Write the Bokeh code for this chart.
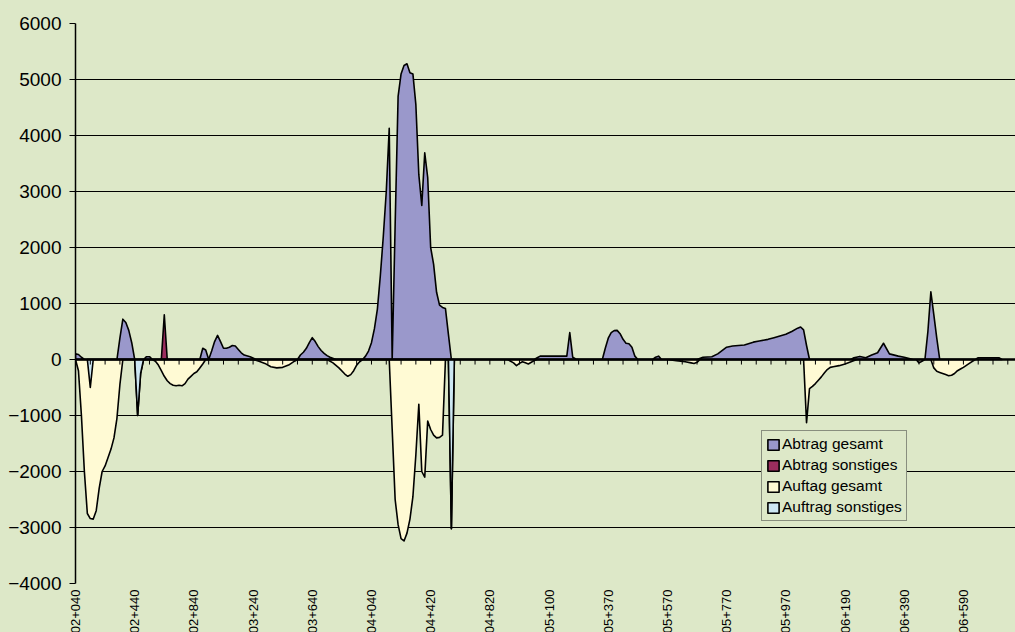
import math
from bokeh.plotting import figure
from bokeh.models import Range1d, FixedTicker, Span, Legend, LegendItem
from bokeh.embed import file_html
from bokeh.resources import INLINE

BG = "#DDE8C8"
FONT = "Liberation Sans"

# category axis: labelled every 20th station, tick marks every 5th
station_labels = ["02+040", "02+440", "02+840", "03+240", "03+640", "04+040", "04+420", "04+820",
                  "05+100", "05+370", "05+570", "05+770", "05+970", "06+190", "06+390", "06+590"]
label_index = [0, 20, 40, 60, 80, 100, 120, 140, 160, 180, 200, 220, 240, 260, 280, 300]
n_categories = 318
y_ticks = [-4000, -3000, -2000, -1000, 0, 1000, 2000, 3000, 4000, 5000, 6000]

# Abtrag gesamt (category index, value)
abtrag_gesamt_x = [0, 1, 2, 3, 14, 15, 16, 17, 18, 19, 20,
                   23, 24, 25, 26,
                   42, 43, 44, 45, 46, 47, 48, 49, 50, 51, 52, 53, 54, 55, 56, 57, 59, 61,
                   75, 76, 77, 78, 79, 80, 81, 82, 83, 84, 85, 86, 88,
                   97, 98, 99, 100, 101, 102, 103, 104, 105, 106, 107, 108, 109, 110, 111, 112,
                   113, 114, 115, 116, 117, 118, 119, 120, 121, 122, 123, 124, 125, 126, 127,
                   155, 156, 157, 166, 167, 168, 169, 170,
                   178, 179, 180, 181, 182, 183, 184, 185, 186, 187, 188, 189, 190,
                   195, 196, 197, 198,
                   210, 212, 215, 217, 218, 220, 222, 226, 229, 231, 234, 236, 238, 240, 242, 244,
                   245, 246, 247, 248,
                   262, 263, 265, 267, 269, 271, 273, 275, 278, 280, 283,
                   287, 288, 289, 290, 291, 292,
                   304, 305, 312, 313]
abtrag_gesamt_y = [100, 90, 40, 0, 0, 380, 720, 660, 520, 300, 0,
                   0, 50, 50, 0,
                   0, 200, 170, 0, 150, 320, 430, 320, 200, 200, 220, 250, 240, 180, 120, 80, 50, 0,
                   0, 80, 130, 200, 300, 390, 320, 230, 160, 110, 70, 40, 0,
                   0, 60, 150, 300, 550, 900, 1500, 2200, 3000, 4130, 0, 2400, 4700, 5100, 5250, 5280,
                   5120, 5100, 4550, 3300, 2750, 3690, 3250, 2000, 1700, 1200, 970, 930, 910, 450, 0,
                   0, 30, 60, 60, 480, 40, 10, 0,
                   0, 200, 380, 480, 515, 520, 460, 360, 290, 280, 220, 60, 0,
                   0, 40, 60, 0,
                   0, 40, 50, 100, 140, 220, 240, 260, 310, 330, 360, 390, 420, 450, 500, 560,
                   580, 530, 250, 0,
                   0, 30, 55, 30, 80, 120, 290, 100, 60, 40, 0,
                   0, 500, 1210, 800, 380, 0,
                   0, 30, 30, 0]

# Abtrag sonstiges
abtrag_sonst_x = [29, 30, 31]
abtrag_sonst_y = [0, 800, 0]

# Auftrag gesamt
auftrag_gesamt_x = [0, 1, 2, 3, 4, 5, 6, 7, 8, 9, 10, 11, 12, 13, 14, 15, 16,
                    20, 21, 22, 23,
                    26, 27, 28, 29, 30, 31, 32, 33, 34, 35, 36, 37, 38, 39, 40, 41, 42, 43, 44,
                    60, 62, 64, 66, 68, 70, 72, 74, 75,
                    85, 87, 89, 91, 92, 93, 94, 95, 96, 97,
                    106, 107, 108, 109, 110, 111, 112, 113, 114, 115, 116, 117, 118, 119, 120,
                    121, 122, 123, 124, 125, 126, 127, 128,
                    146, 148, 149, 150, 151, 152, 153, 154, 155, 156,
                    200, 203, 206, 208, 209, 210, 211,
                    246, 247, 248, 249, 250, 251, 252, 253, 254, 255, 256, 258, 260, 262, 264,
                    284, 285, 286, 287,
                    289, 290, 291, 292, 293, 294, 295, 296, 297, 298, 299, 300, 302, 304]
auftrag_gesamt_y = [0, -200, -1000, -2000, -2750, -2840, -2850, -2700, -2300, -2000, -1900, -1750,
                    -1600, -1400, -1050, -450, 0,
                    0, -1000, -250, 0,
                    0, -30, -100, -200, -300, -380, -430, -460, -470, -460, -470, -430, -350, -300,
                    -250, -220, -150, -80, 0,
                    0, -30, -70, -130, -150, -140, -100, -30, 0,
                    0, -60, -150, -260, -300, -270, -200, -100, -40, 0,
                    0, -1250, -2500, -2950, -3200, -3240, -3100, -2850, -2450, -1700, -800, -2000,
                    -2100, -1100, -1250, -1350, -1400, -1390, -1350, 0, 0, -3020, 0,
                    0, -60, -110, -70, -40, -60, -80, -50, -20, 0,
                    0, -20, -40, -60, -70, -50, 0,
                    0, -1130, -520, -480, -430, -370, -310, -240, -180, -140, -130, -110, -80, -40, 0,
                    0, -60, -30, 0,
                    0, -150, -210, -230, -250, -270, -290, -280, -250, -200, -170, -140, -70, 0]

# Auftrag sonstiges
auftrag_sonst_x = [4, 5, 6, 20, 21, 22, 23, 126, 127, 128]
auftrag_sonst_y = [0, -500, 0, 0, -1000, -250, 0, 0, -3020, 0]

series_names = ["Abtrag gesamt", "Abtrag sonstiges", "Auftag gesamt", "Auftrag sonstiges"]
series_colors = ["#9A98CB", "#9B2D5E", "#FFFAD4", "#CDE7F3"]

p = figure(width=1015, height=636,
           x_range=Range1d(0, n_categories - 0.4), y_range=Range1d(-4000, 6000),
           output_backend="svg", toolbar_location=None,
           min_border_left=75, min_border_right=0, min_border_top=23, min_border_bottom=53,
           background_fill_color=BG, border_fill_color=BG)
p.outline_line_color = None
p.xgrid.visible = False
p.ygrid.ticker = FixedTicker(ticks=y_ticks)
p.ygrid.grid_line_color = "black"
p.ygrid.grid_line_width = 1

p.yaxis.ticker = FixedTicker(ticks=y_ticks)
p.yaxis.major_label_text_font = FONT
p.yaxis.major_label_text_font_size = "19px"
p.yaxis.major_label_text_color = "black"
p.yaxis.major_tick_out = 6
p.yaxis.major_tick_in = 0
p.yaxis.minor_tick_out = 0
p.yaxis.minor_tick_in = 0
p.yaxis.major_label_standoff = 8
p.yaxis.axis_line_color = "black"
p.yaxis.axis_line_width = 1.5
p.yaxis.major_tick_line_color = "black"

p.xaxis.ticker = FixedTicker(ticks=label_index)
p.xaxis.major_label_overrides = {i: s for i, s in zip(label_index, station_labels)}
p.xaxis.major_label_orientation = math.pi / 2
p.xaxis.major_label_text_font = FONT
p.xaxis.major_label_text_font_size = "13px"
p.xaxis.major_label_text_color = "black"
p.xaxis.major_tick_out = 0
p.xaxis.major_tick_in = 0
p.xaxis.minor_tick_out = 0
p.xaxis.minor_tick_in = 0
p.xaxis.axis_line_color = None
p.xaxis.major_label_standoff = 6


def closed(xs, ys):
    return [xs[0]] + list(xs) + [xs[-1]], [0] + list(ys) + [0]


renderers = []
for (xs, ys), color in zip([(abtrag_gesamt_x, abtrag_gesamt_y), (abtrag_sonst_x, abtrag_sonst_y),
                            (auftrag_gesamt_x, auftrag_gesamt_y), (auftrag_sonst_x, auftrag_sonst_y)],
                           series_colors):
    px, py = closed(xs, ys)
    r = p.patch(px, py, fill_color=color, line_color="black", line_width=1.6, line_join="round")
    renderers.append(r)

# category axis crossing at zero with tick marks
p.add_layout(Span(location=0, dimension="width", line_color="black", line_width=2.5))
tick_x = list(range(0, n_categories, 5))
p.segment(x0=tick_x, y0=[0] * len(tick_x), x1=tick_x, y1=[-90] * len(tick_x),
          line_color="black", line_width=1)

legend = Legend(items=[LegendItem(label=n, renderers=[r]) for n, r in zip(series_names, renderers)],
                location=(686, 62), padding=4, spacing=3, margin=0,
                label_text_font=FONT, label_text_font_size="15.5px", label_text_color="black",
                label_height=18, glyph_height=13, glyph_width=14, label_standoff=2,
                border_line_color="#333333", border_line_width=1,
                background_fill_color=BG, background_fill_alpha=1.0)
p.add_layout(legend)

html = file_html(p, INLINE, title="Abtrag / Auftrag")
html = html.replace("</head>", "<style>html,body{background:%s;overflow:hidden;}</style></head>" % BG, 1)
open("out.html", "w").write(html)
